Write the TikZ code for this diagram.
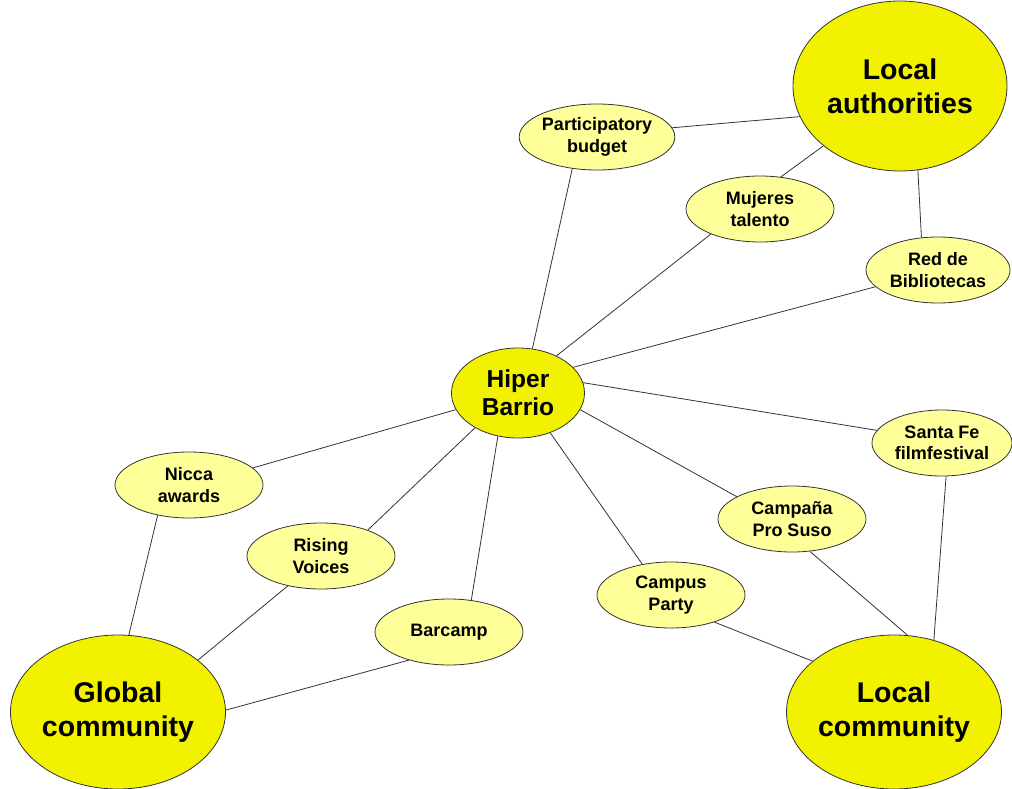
\documentclass[tikz,border=0pt]{standalone}
\usepackage{fontspec}
\setmainfont{Liberation Sans}
\usetikzlibrary{shapes.geometric,backgrounds}
\definecolor{bigyellow}{HTML}{F2F200}
\definecolor{smallyellow}{HTML}{FFFF99}
\definecolor{edgegray}{HTML}{333333}
\tikzset{
  big/.style={ellipse, draw=edgegray, line width=0.8pt, fill=bigyellow, inner sep=0pt,
    minimum width=214pt, minimum height=154pt, align=center,
    font=\fontsize{28.5}{34}\selectfont\bfseries},
  hub/.style={ellipse, draw=edgegray, line width=0.8pt, fill=bigyellow, inner sep=0pt,
    minimum width=133pt, minimum height=90pt, align=center,
    font=\fontsize{24.5}{28}\selectfont\bfseries},
  small/.style={ellipse, draw=edgegray, line width=0.8pt, fill=smallyellow, inner sep=0pt,
    minimum width=148pt, minimum height=66pt, align=center,
    font=\fontsize{18}{21.5}\selectfont\bfseries},
  link/.style={draw=edgegray, line width=0.8pt}
}
\begin{document}
\begin{tikzpicture}[x=1pt,y=-1pt]
\useasboundingbox (0,0) rectangle (1012,789);
% nodes
\node[big, minimum height=170pt] (la) at (900,86) {Local\\authorities};
\node[big] (gc) at (118,712) {Global\\community};
\node[big] (lc) at (894,712) {Local\\community};
\node[hub] (hb) at (518,393) {Hiper\\Barrio};
\node[small] (pb) at (597,137) {Participatory\\budget};
\node[small] (mt) at (760,209) {Mujeres\\talento};
\node[small, minimum width=144pt] (rb) at (938,270) {Red de\\Bibliotecas};
\node[small, minimum width=140pt] (sf) at (942,443) {Santa Fe\\filmfestival};
\node[small] (na) at (189,485) {Nicca\\awards};
\node[small] (cp) at (792,519) {Campaña\\Pro Suso};
\node[small] (rv) at (321,556) {Rising\\Voices};
\node[small] (cpa) at (671,595) {Campus\\Party};
\node[small] (bc) at (449,632) {Barcamp};
% edges
\begin{scope}[on background layer]
\draw[link] (pb.7) -- (la.197);
\draw[link] (mt.57) -- (la.218);
\draw[link] (rb.117) -- (la.282);
\draw[link] (hb.72) -- (pb.232);
\draw[link] (hb.44) -- (mt.207);
\draw[link] (hb.25) -- (rb.195);
\draw[link] (hb.9) -- (sf.169);
\draw[link] (hb.-15) -- (cp.158);
\draw[link] (hb.-51) -- (cpa.133);
\draw[link] (hb.245) -- (bc.55);
\draw[link] (hb.219) -- (rv.29);
\draw[link] (hb.195) -- (na.15);
\draw[link] (na.224) -- (gc.82);
\draw[link] (rv.222) -- (gc.33);
\draw[link] (bc.215) -- (gc.1);
\draw[link] (cpa.328) -- (lc.148);
\draw[link] (cp.299) -- (lc.80);
\draw[link] (sf.277) -- (lc.61);
\end{scope}
\end{tikzpicture}
\end{document}
